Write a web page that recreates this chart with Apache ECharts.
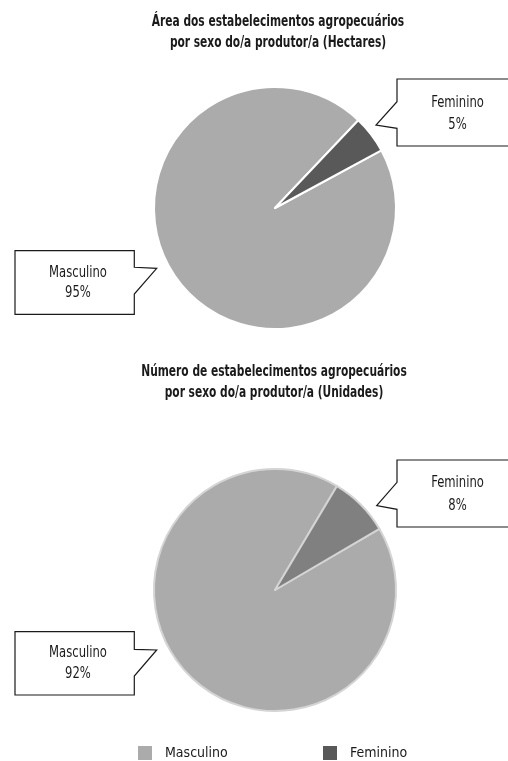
<!DOCTYPE html>
<html>
<head>
<meta charset="utf-8">
<script src="https://cdn.jsdelivr.net/npm/echarts@6/dist/echarts.min.js"></script>
<style>
html,body{margin:0;padding:0;background:#fff;}
#c{width:508px;height:761px;}
</style>
</head>
<body>
<div id="c"></div>
<script>
// ---- data ----
const categories = ['Masculino', 'Feminino'];
const areaValues = [95, 5];        // % of area (hectares)
const countValues = [92, 8];       // % of establishments (units)
const titles = [
  'Área dos estabelecimentos agropecuários\npor sexo do/a produtor/a (Hectares)',
  'Número de estabelecimentos agropecuários\npor sexo do/a produtor/a (Unidades)'
];

const FONT = '"Liberation Sans Narrow", "DejaVu Sans Condensed", "Roboto Condensed", sans-serif';
const colMasc = '#ababab';
const colFem1 = '#595959';
const colFem2 = '#808080';

function pct(vals, i) {
  const s = vals.reduce((a, b) => a + b, 0);
  return Math.round(vals[i] / s * 100) + '%';
}

function ctext(txt, x, y) {
  return { type: 'text', x: x, y: y, scaleX: 0.86,
    style: { text: txt, x: 0, y: 0, align: 'center', verticalAlign: 'middle',
      font: '15px ' + FONT, fill: '#1a1a1a' } };
}

function callout(points, cx, cy1, cy2, name, value) {
  return {
    type: 'group',
    children: [
      { type: 'polygon', shape: { points: points },
        style: { fill: '#fff', stroke: '#1a1a1a', lineWidth: 1.2 } },
      ctext(name, cx, cy1),
      ctext(value, cx, cy2)
    ]
  };
}

function ttext(txt, x, y) {
  return { type: 'text', x: x, y: y, scaleX: 0.74,
    style: { text: txt, x: 0, y: 0, align: 'center', verticalAlign: 'top',
      font: 'bold 16px ' + FONT, lineHeight: 21, fill: '#1a1a1a' } };
}

const legendBase = {
  top: 746, padding: 0, itemWidth: 14, itemHeight: 14, icon: 'rect',
  itemStyle: { borderWidth: 0 },
  textStyle: { fontFamily: FONT, fontSize: 14, color: '#1a1a1a', padding: [0, 0, 0, 8] }
};

const chart = echarts.init(document.getElementById('c'), null, { renderer: 'canvas' });

chart.setOption({
  animation: false,
  backgroundColor: '#fff',
  legend: [
    Object.assign({ data: [categories[0]], left: 138 }, legendBase),
    Object.assign({ data: [categories[1]], left: 323 }, legendBase)
  ],
  series: [
    {
      type: 'pie', silent: true, center: [275, 208], radius: 121, startAngle: 28.5, clockwise: true,
      label: { show: false }, labelLine: { show: false },
      itemStyle: { borderColor: '#ffffff', borderWidth: 2 },
      data: categories.map((n, i) => ({ name: n, value: areaValues[i],
        itemStyle: { color: i === 0 ? colMasc : colFem1 } }))
    },
    {
      type: 'pie', silent: true, center: [275, 590], radius: 121, startAngle: 30.4, clockwise: true,
      label: { show: false }, labelLine: { show: false },
      itemStyle: { borderColor: '#d4d4d4', borderWidth: 2 },
      data: categories.map((n, i) => ({ name: n, value: countValues[i],
        itemStyle: { color: i === 0 ? colMasc : colFem2 } }))
    }
  ],
  graphic: [
    ttext(titles[0], 278, 11),
    ttext(titles[1], 274, 361),
    callout([[397,79],[518,79],[518,146],[397,146],[397,128.3],[376,125],[397,101.7]],
      457.5, 103.3, 125, categories[1], pct(areaValues, 1)),
    callout([[15,250.7],[134.3,250.7],[134.3,267.3],[156.7,268.3],[134.3,294],[134.3,314.3],[15,314.3]],
      78, 272.7, 293.3, categories[0], pct(areaValues, 0)),
    callout([[397,460],[518,460],[518,527],[397,527],[397,509.3],[376.7,505.7],[397,482.3]],
      457.5, 483.3, 506, categories[1], pct(countValues, 1)),
    callout([[15,631.7],[134.3,631.7],[134.3,649.3],[156.7,650],[134.3,676],[134.3,695],[15,695]],
      78, 653.3, 674, categories[0], pct(countValues, 0))
  ]
});
</script>
</body>
</html>
